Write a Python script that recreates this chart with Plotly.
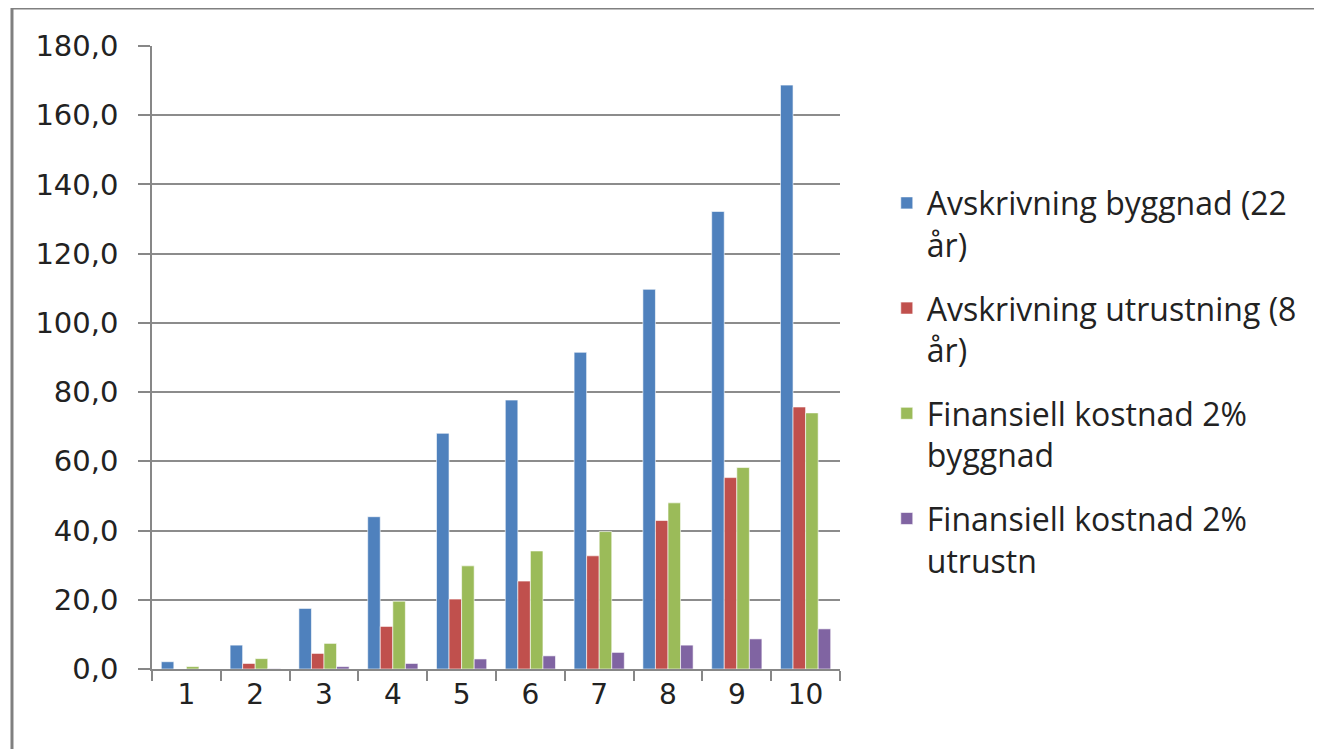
import plotly.graph_objects as go

categories = ["1", "2", "3", "4", "5", "6", "7", "8", "9", "10"]
avskr_byggnad = [2.1, 6.9, 17.5, 44.0, 68.1, 77.7, 91.5, 109.7, 132.2, 168.7]
avskr_utrustning = [0.0, 1.6, 4.5, 12.3, 20.2, 25.4, 32.7, 42.9, 55.3, 75.7]
fin_byggnad = [0.7, 3.0, 7.4, 19.6, 29.8, 34.1, 39.7, 48.0, 58.2, 74.0]
fin_utrustn = [0.0, 0.1, 0.7, 1.6, 2.9, 3.8, 4.8, 6.9, 8.7, 11.6]

series = [
    ("Avskrivning byggnad (22<br>år)", avskr_byggnad, "#4F81BD"),
    ("Avskrivning utrustning (8<br>år)", avskr_utrustning, "#C0504D"),
    ("Finansiell kostnad 2%<br>byggnad", fin_byggnad, "#9BBB59"),
    ("Finansiell kostnad 2%<br>utrustn", fin_utrustn, "#8064A2"),
]

fig = go.Figure()
for i, (name, vals, col) in enumerate(series):
    fig.add_trace(go.Bar(
        x=categories, y=vals, name=name, legendgroup=f"g{i}",
        marker=dict(color=col, line=dict(color="rgba(255,255,255,0.6)", width=1)),
    ))

fig.update_layout(
    width=1322, height=749,
    margin=dict(l=144, r=490, t=38, b=88),
    paper_bgcolor="white", plot_bgcolor="white",
    barmode="group", bargap=0.27, bargroupgap=0,
    separators=",.",
    font=dict(family="DejaVu Sans", color="#222222"),
    showlegend=True,
    legend=dict(
        x=1.068, xanchor="left", y=0.792, yanchor="top",
        font=dict(family="Open Sans", size=32, color="#222222"),
        valign="top", tracegroupgap=19, itemwidth=30,
        bgcolor="rgba(0,0,0,0)",
    ),
    xaxis=dict(
        type="category", showline=True, linecolor="#878787", linewidth=1.5,
        ticks="outside", tickson="boundaries", ticklen=10, tickcolor="#878787",
        tickwidth=1.5, tickfont=dict(size=28, family="DejaVu Sans"),
        showgrid=False,
    ),
    yaxis=dict(
        range=[0, 180], dtick=20, tickformat=".1f",
        showline=True, linecolor="#878787", linewidth=1.5,
        ticks="outside", ticklen=12, tickcolor="#878787", tickwidth=1.5,
        showgrid=True, gridcolor="#8c8c8c", gridwidth=1.5,
        tickfont=dict(size=29, family="DejaVu Sans"),
        zeroline=False, ticklabelstandoff=14,
    ),
    shapes=[dict(
        type="rect", xref="paper", yref="paper",
        x0=-0.2035, x1=1.6915, y0=-0.15, y1=1.061,
        line=dict(color="#808080", width=3), fillcolor="rgba(0,0,0,0)",
        layer="below",
    )],
)

fig.write_html("out.html")
